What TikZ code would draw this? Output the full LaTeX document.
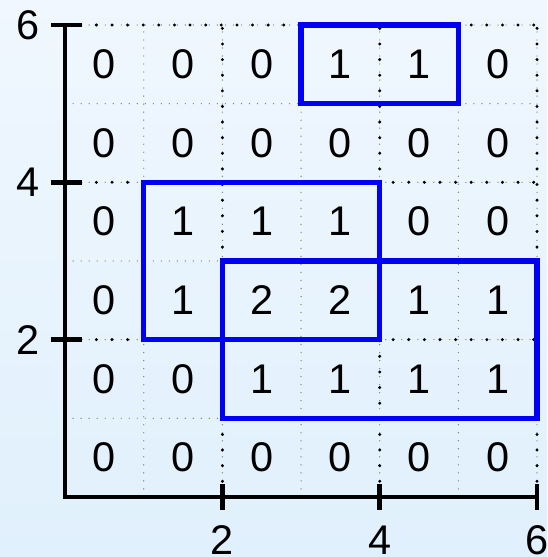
\documentclass[tikz,border=0pt]{standalone}
\usepackage{fontspec}
\setmainfont{Liberation Sans}
\usepackage{tikz}
\usetikzlibrary{calc,positioning}
\definecolor{bgTop}{RGB}{240,247,254}
\definecolor{bgBottom}{RGB}{224,240,252}
\definecolor{boxBlue}{RGB}{0,0,245}
\tikzset{
  minorGrid/.style = {draw=gray, line width=0.5pt, line cap=round,
                      dash pattern=on 0pt off 2.9pt},
  majorGrid/.style = {draw=black, line width=1.2pt, line cap=round,
                      dash pattern=on 0pt off 5.65pt},
  axisLine/.style  = {draw=black, line width=1.7pt},
  cellNum/.style   = {font=\fontsize{15}{18}\selectfont, inner sep=0pt},
  tickNum/.style   = {font=\fontsize{15}{18}\selectfont, inner sep=0pt},
  hitBox/.style    = {draw=boxBlue, line width=1.9pt},
}
\begin{document}
\begin{tikzpicture}
  % background
  \shade[top color=bgTop,bottom color=bgBottom] (-0.828,-0.764) rectangle (6.127,6.318);
  \useasboundingbox (-0.828,-0.764) rectangle (6.127,6.318);
  % grids
  \foreach \k in {1,...,6}{
    \draw[minorGrid] (\k,0) -- (\k,6);
    \draw[minorGrid] (0,\k) -- (6,\k);}
  \foreach \k in {2,4,6}{
    \draw[majorGrid] (\k,0) -- (\k,6);
    \draw[majorGrid] (0,\k) -- (6,\k);}
  % cell values, top row first
  \foreach \row [count=\j from 0] in {{0,0,0,1,1,0},{0,0,0,0,0,0},{0,1,1,1,0,0},
                                      {0,1,2,2,1,1},{0,0,1,1,1,1},{0,0,0,0,0,0}}{
    \foreach \v [count=\i from 0] in \row{
      \node[cellNum] (c-\i-\j) at (\i+0.5,5.5-\j) {\v};}}
  % boxes
  \draw[hitBox] (3,5) rectangle (5,6);
  \draw[hitBox] (1,2) rectangle (4,4);
  \draw[hitBox] (2,1) rectangle (6,3);
  % axes
  \coordinate (o) at (0,0);
  \coordinate (xe) at (6,0);
  \coordinate (ye) at (0,6);
  \draw[axisLine] (xe) -- (o) -- (ye);
  \foreach \k in {2,4,6}{
    \draw[axisLine] (\k,0.16) -- (\k,-0.17);
    \draw[axisLine] (-0.18,\k) -- (0.22,\k);
    \node[tickNum] (xl-\k) at (\k,-0.55) {\k};
    \node[tickNum] (yl-\k) at (-0.47,\k) {\k};}
\end{tikzpicture}
\end{document}
